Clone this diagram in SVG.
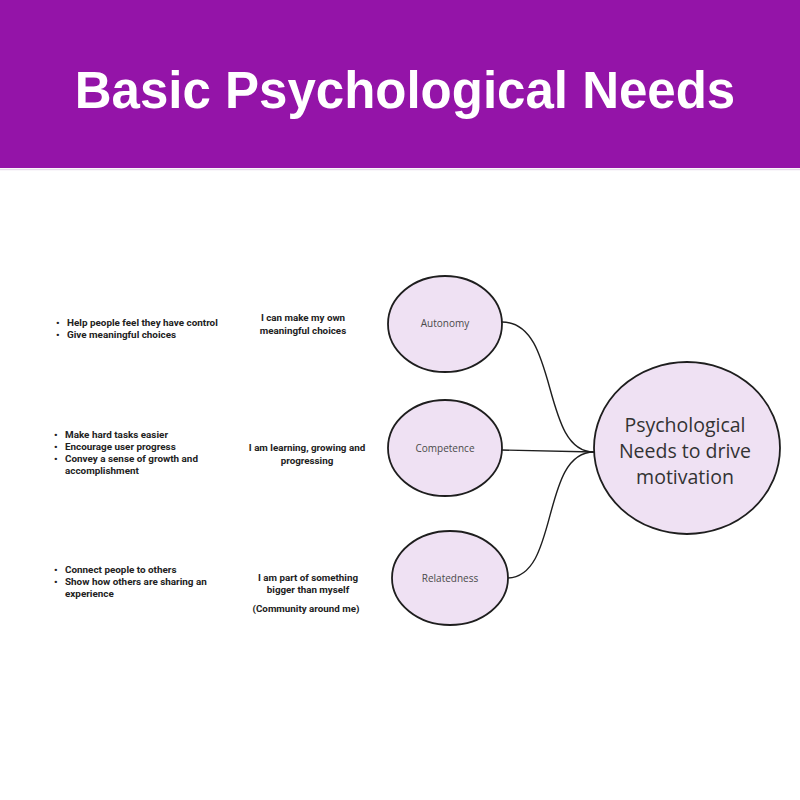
<svg xmlns="http://www.w3.org/2000/svg" width="800" height="800" viewBox="0 0 800 800">
<defs>
<style>
.bg{fill:#ffffff}
.band{fill:#9414a8}
.title{font-family:"Liberation Sans",Arial,sans-serif;font-weight:700;font-size:51px;fill:#ffffff;text-anchor:middle}
.node{fill:#efe1f3;stroke:#1e1e1e;stroke-width:1.8}
.lbl{font-family:"Open Sans","Noto Sans",sans-serif;font-size:10px;fill:#4a4a4a;text-anchor:middle}
.big{font-family:"Open Sans","Noto Sans",sans-serif;font-size:19.5px;fill:#333333;text-anchor:middle}
.bul{font-family:Roboto,"Liberation Sans",sans-serif;font-weight:700;font-size:9.9px;fill:#222222}
.mid{font-family:Roboto,"Liberation Sans",sans-serif;font-weight:700;font-size:9.8px;fill:#222222;text-anchor:middle}
.conn{fill:none;stroke:#1e1e1e;stroke-width:1.4}
</style>
</defs>
<rect class="bg" x="0" y="0" width="800" height="800"/>
<rect class="band" x="0" y="0" width="800" height="168"/>
<line x1="0" y1="169.5" x2="800" y2="169.5" stroke="#e6dcea" stroke-width="1.5"/>
<text class="title" x="405" y="108">Basic Psychological Needs</text>

<g id="connectors">
<path class="conn" d="M502,322 C560,322 540,452 594,452"/>
<path class="conn" d="M501,450 L594,452"/>
<path class="conn" d="M507,578 C560,578 540,452 594,452"/>
</g>

<g id="autonomy">
<ellipse class="node" cx="445" cy="324" rx="57" ry="48"/>
<text class="lbl" x="445" y="327">Autonomy</text>
</g>
<g id="competence">
<ellipse class="node" cx="445" cy="448" rx="57" ry="48"/>
<text class="lbl" x="445" y="452">Competence</text>
</g>
<g id="relatedness">
<ellipse class="node" cx="450" cy="578" rx="58" ry="47"/>
<text class="lbl" x="450" y="582">Relatedness</text>
</g>
<g id="psych-needs">
<ellipse class="node" cx="687" cy="448" rx="93" ry="86"/>
<text class="big" x="685" y="432">Psychological</text>
<text class="big" x="685" y="458">Needs to drive</text>
<text class="big" x="685" y="484">motivation</text>
</g>

<g id="autonomy-notes">
<text class="bul" x="56" y="326">•</text>
<text class="bul" x="67" y="326">Help people feel they have control</text>
<text class="bul" x="56" y="338">•</text>
<text class="bul" x="67" y="338">Give meaningful choices</text>
<text class="mid" x="303" y="321">I can make my own</text>
<text class="mid" x="303" y="334">meaningful choices</text>
</g>
<g id="competence-notes">
<text class="bul" x="54" y="438">•</text>
<text class="bul" x="65" y="438">Make hard tasks easier</text>
<text class="bul" x="54" y="450">•</text>
<text class="bul" x="65" y="450">Encourage user progress</text>
<text class="bul" x="54" y="462">•</text>
<text class="bul" x="65" y="462">Convey a sense of growth and</text>
<text class="bul" x="65" y="474">accomplishment</text>
<text class="mid" x="307" y="451">I am learning, growing and</text>
<text class="mid" x="307" y="464">progressing</text>
</g>
<g id="relatedness-notes">
<text class="bul" x="54" y="573">•</text>
<text class="bul" x="65" y="573">Connect people to others</text>
<text class="bul" x="54" y="585">•</text>
<text class="bul" x="65" y="585">Show how others are sharing an</text>
<text class="bul" x="65" y="597">experience</text>
<text class="mid" x="308" y="581">I am part of something</text>
<text class="mid" x="308" y="593">bigger than myself</text>
<text class="mid" x="306" y="612">(Community around me)</text>
</g>
</svg>
